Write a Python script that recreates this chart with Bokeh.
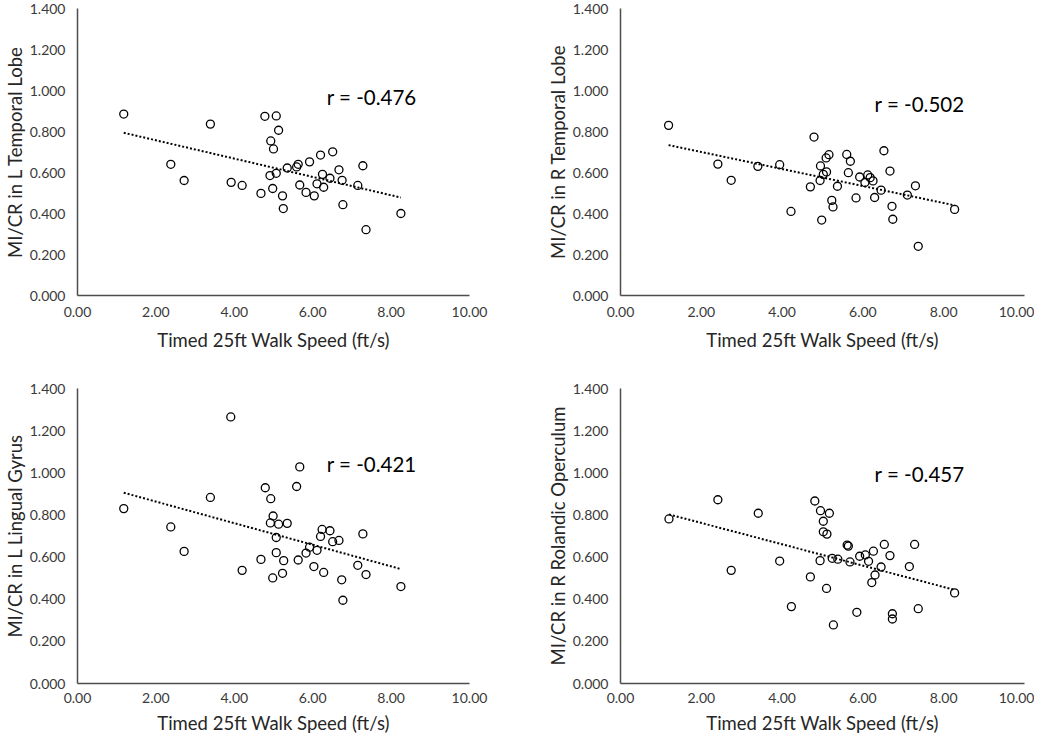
import numpy as np
from bokeh.plotting import figure
from bokeh.layouts import column, row
from bokeh.models import Range1d, FixedTicker, PrintfTickFormatter
from bokeh.core.properties import value
from bokeh.embed import file_html
from bokeh.resources import INLINE

FONT = "Lato"

x_ticks = [0, 2, 4, 6, 8, 10]
y_ticks = [0, 0.2, 0.4, 0.6, 0.8, 1.0, 1.2, 1.4]

x_title = "Timed 25ft Walk Speed (ft/s)"
y_titles = ["MI/CR in L Temporal Lobe", "MI/CR in R Temporal Lobe",
            "MI/CR in L Lingual Gyrus", "MI/CR in R Rolandic Operculum"]
r_labels = ["r = -0.476", "r = -0.502", "r = -0.421", "r = -0.457"]
r_label_x = [6.36, 6.29, 6.36, 6.29]
r_label_y = [0.97, 0.934, 1.04, 0.995]

l_temporal_x = [1.18, 2.38, 2.72, 3.39, 3.92, 4.20, 4.68, 4.78, 4.91, 4.93, 4.98, 5.00, 5.07, 5.07,
                5.13, 5.23, 5.25, 5.35, 5.59, 5.63, 5.67, 5.83, 5.92, 6.04, 6.11, 6.20, 6.25, 6.28,
                6.44, 6.51, 6.67, 6.75, 6.77, 7.15, 7.28, 7.36, 8.25]
l_temporal_y = [0.885, 0.640, 0.561, 0.836, 0.552, 0.537, 0.498, 0.874, 0.585, 0.754, 0.522, 0.715,
                0.876, 0.596, 0.806, 0.486, 0.424, 0.622, 0.627, 0.640, 0.539, 0.503, 0.652, 0.486,
                0.545, 0.685, 0.591, 0.528, 0.572, 0.701, 0.613, 0.562, 0.443, 0.537, 0.633, 0.321,
                0.400]

r_temporal_x = [1.19, 2.41, 2.74, 3.40, 3.94, 4.22, 4.70, 4.79, 4.94, 4.95, 4.98, 5.02, 5.09, 5.10,
                5.16, 5.23, 5.26, 5.37, 5.60, 5.64, 5.69, 5.83, 5.92, 6.05, 6.12, 6.18, 6.25, 6.29,
                6.45, 6.52, 6.67, 6.72, 6.74, 7.10, 7.30, 7.37, 8.27]
r_temporal_y = [0.830, 0.641, 0.562, 0.630, 0.638, 0.410, 0.530, 0.773, 0.561, 0.632, 0.368, 0.591,
                0.671, 0.603, 0.687, 0.464, 0.432, 0.533, 0.688, 0.599, 0.655, 0.476, 0.578, 0.551,
                0.588, 0.575, 0.559, 0.478, 0.514, 0.706, 0.607, 0.435, 0.372, 0.490, 0.535, 0.240,
                0.420]

l_lingual_x = [1.18, 2.38, 2.72, 3.39, 3.91, 4.20, 4.68, 4.79, 4.92, 4.93, 4.98, 4.99, 5.07, 5.07,
               5.13, 5.23, 5.26, 5.35, 5.59, 5.63, 5.67, 5.83, 5.92, 6.03, 6.11, 6.20, 6.24, 6.28,
               6.44, 6.51, 6.67, 6.74, 6.77, 7.15, 7.28, 7.36, 8.25]
l_lingual_y = [0.830, 0.743, 0.627, 0.883, 1.265, 0.537, 0.589, 0.929, 0.762, 0.877, 0.501, 0.795,
               0.693, 0.621, 0.756, 0.523, 0.583, 0.760, 0.935, 0.586, 1.028, 0.619, 0.647, 0.555,
               0.632, 0.698, 0.731, 0.527, 0.725, 0.673, 0.679, 0.492, 0.395, 0.561, 0.710, 0.517,
               0.460]

r_rolandic_x = [1.20, 2.41, 2.74, 3.41, 3.94, 4.23, 4.70, 4.81, 4.94, 4.95, 5.02, 5.02, 5.10, 5.11,
                5.17, 5.24, 5.27, 5.38, 5.61, 5.64, 5.68, 5.85, 5.92, 6.06, 6.14, 6.22, 6.26, 6.30,
                6.45, 6.53, 6.67, 6.73, 6.73, 7.15, 7.28, 7.37, 8.27]
r_rolandic_y = [0.781, 0.872, 0.537, 0.808, 0.581, 0.365, 0.506, 0.866, 0.583, 0.820, 0.770, 0.720,
                0.451, 0.709, 0.808, 0.594, 0.278, 0.590, 0.657, 0.652, 0.577, 0.338, 0.604, 0.610,
                0.580, 0.479, 0.628, 0.515, 0.553, 0.660, 0.607, 0.331, 0.306, 0.555, 0.660, 0.355,
                0.430]

AXIS_COLOR = "#4d4d4d"
TICK_COLOR = "#3a3a3a"
TITLE_COLOR = "#262626"


def make_panel(xs, ys, ytitle, rlabel, rx, ry, width, height, mbl, mbr, mbt, mbb,
               xl_standoff, xt_standoff):
    p = figure(width=width, height=height, output_backend="svg", toolbar_location=None,
               x_range=Range1d(0, 10), y_range=Range1d(0, 1.4),
               min_border_left=mbl, min_border_right=mbr,
               min_border_top=mbt, min_border_bottom=mbb)
    p.outline_line_color = None
    p.grid.grid_line_color = None
    p.background_fill_color = "white"
    p.border_fill_color = "white"

    for ax in (p.xaxis[0], p.yaxis[0]):
        ax.axis_line_color = AXIS_COLOR
        ax.axis_line_width = 1.5
        ax.major_tick_line_color = None
        ax.minor_tick_line_color = None
        ax.major_tick_out = 0
        ax.major_tick_in = 0
        ax.major_label_text_font = FONT
        ax.major_label_text_font_size = "14px"
        ax.major_label_text_color = TICK_COLOR
        ax.axis_label_text_font = FONT
        ax.axis_label_text_font_size = "18.5px"
        ax.axis_label_text_font_style = "normal"
        ax.axis_label_text_color = TITLE_COLOR

    p.xaxis.ticker = FixedTicker(ticks=x_ticks)
    p.yaxis.ticker = FixedTicker(ticks=y_ticks)
    p.xaxis.formatter = PrintfTickFormatter(format="%.2f")
    p.yaxis.formatter = PrintfTickFormatter(format="%.3f")
    p.xaxis.axis_label = x_title
    p.yaxis.axis_label = ytitle
    p.xaxis.major_label_standoff = xl_standoff
    p.xaxis.axis_label_standoff = xt_standoff
    p.yaxis.major_label_standoff = 12
    p.yaxis.axis_label_standoff = 1

    coef = np.polyfit(xs, ys, 1)
    lx = [min(xs), max(xs)]
    ly = [coef[0] * v + coef[1] for v in lx]
    p.line(lx, ly, line_color="black", line_width=2, line_dash="2 2")

    p.scatter(xs, ys, marker="circle", size=8, line_color="black", line_width=1.3,
              fill_alpha=0)

    p.text(x=[rx], y=[ry], text=[rlabel], text_font=value(FONT), text_font_size="20.5px",
           text_font_style="normal", text_color="black", text_align="left",
           text_baseline="middle")
    return p


p1 = make_panel(l_temporal_x, l_temporal_y, y_titles[0], r_labels[0], r_label_x[0], r_label_y[0],
                540, 364, 65, 71, 8, 69, 11, 9)
p2 = make_panel(r_temporal_x, r_temporal_y, y_titles[1], r_labels[1], r_label_x[1], r_label_y[1],
                494, 364, 80, 10, 8, 69, 11, 9)
p3 = make_panel(l_lingual_x, l_lingual_y, y_titles[2], r_labels[2], r_label_x[2], r_label_y[2],
                540, 374, 65, 71, 24, 55, 9, 6)
p4 = make_panel(r_rolandic_x, r_rolandic_y, y_titles[3], r_labels[3], r_label_x[3], r_label_y[3],
                494, 374, 80, 10, 24, 55, 9, 6)

layout = column(row(p1, p2), row(p3, p4))

open("out.html", "w").write(file_html(layout, INLINE))
